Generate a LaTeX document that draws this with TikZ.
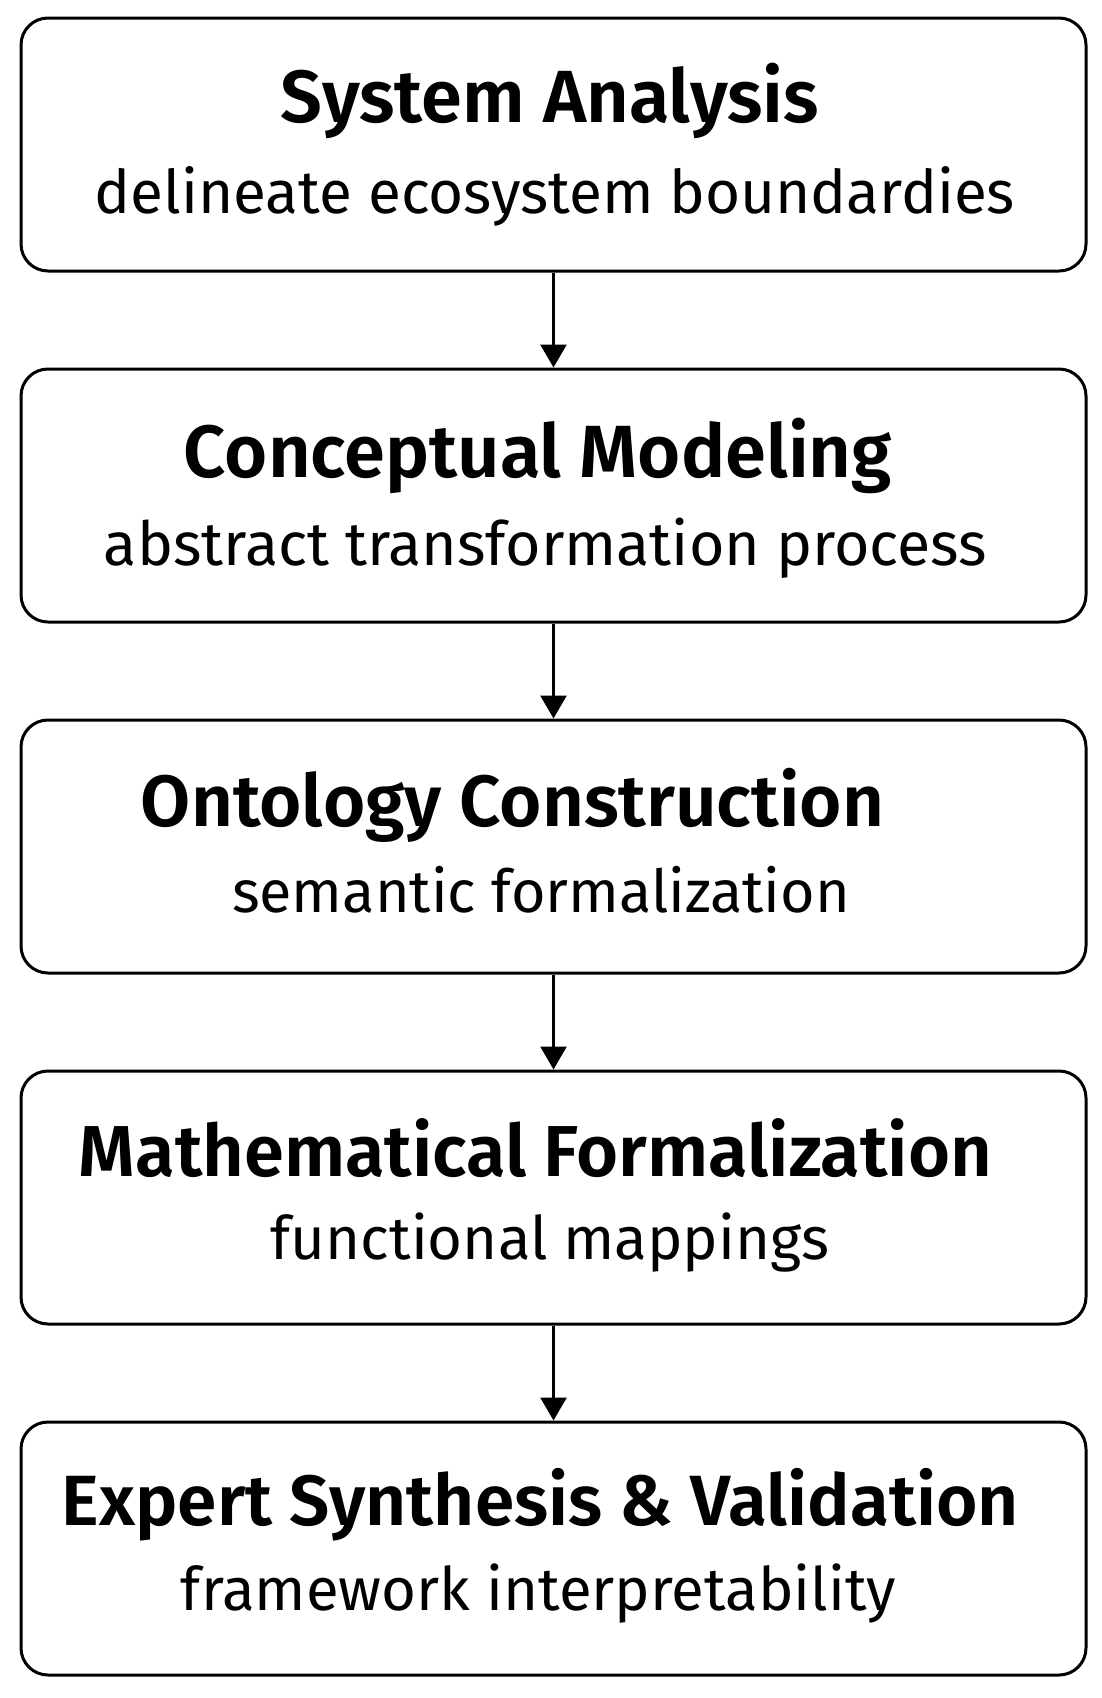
\documentclass[tikz,border=0pt]{standalone}
\usepackage{fontspec}
\setmainfont{Fira Sans}[BoldFont={Fira Sans SemiBold}]
\usepackage{graphicx}
\usetikzlibrary{arrows.meta}
\begin{document}
\begin{tikzpicture}[x=1pt,y=-1pt,
  stepbox/.style={draw=black, line width=3pt, rounded corners=27pt, minimum width=1065pt, minimum height=253pt, inner sep=0pt, fill=white},
  txt/.style={anchor=base, inner sep=0pt, outer sep=0pt},
  flow/.style={line width=2.6pt, -{Triangle[width=26pt,length=23pt]}}]
\useasboundingbox[fill=white] (0,0) rectangle (1102,1698);
\node[stepbox] (b1) at (553.5,144.5) {};
\node[stepbox] (b2) at (553.5,495.5) {};
\node[stepbox] (b3) at (553.5,846.5) {};
\node[stepbox] (b4) at (553.5,1197.5) {};
\node[stepbox] (b5) at (553.5,1548.5) {};
% titles
\node[txt] (t1) at (550,122) {\resizebox{538pt}{!}{\bfseries System Analysis}};
\node[txt] (t2) at (538,477) {\resizebox{708pt}{!}{\bfseries Conceptual Modeling}};
\node[txt] (t3) at (512.5,826) {\resizebox{743pt}{!}{\bfseries Ontology Construction}};
\node[txt] (t4) at (535.5,1176) {\resizebox{913pt}{!}{\bfseries Mathematical Formalization}};
\node[txt] (t5) at (540.5,1525) {\resizebox{957pt}{!}{\bfseries Expert Synthesis \& Validation}};
% subtitles
\node[txt] (s1) at (555,213) {\resizebox{920pt}{!}{delineate ecosystem boundardies}};
\node[txt] (s2) at (545.5,565) {\resizebox{883pt}{!}{abstract transformation process}};
\node[txt] (s3) at (541,912) {\resizebox{618pt}{!}{semantic formalization}};
\node[txt] (s4) at (550,1259) {\resizebox{558pt}{!}{functional mappings}};
\node[txt] (s5) at (538.5,1610) {\resizebox{715pt}{!}{framework interpretability}};
% arrows
\draw[flow] (b1.south) -- (b2.north);
\draw[flow] (b2.south) -- (b3.north);
\draw[flow] (b3.south) -- (b4.north);
\draw[flow] (b4.south) -- (b5.north);
\end{tikzpicture}
\end{document}
